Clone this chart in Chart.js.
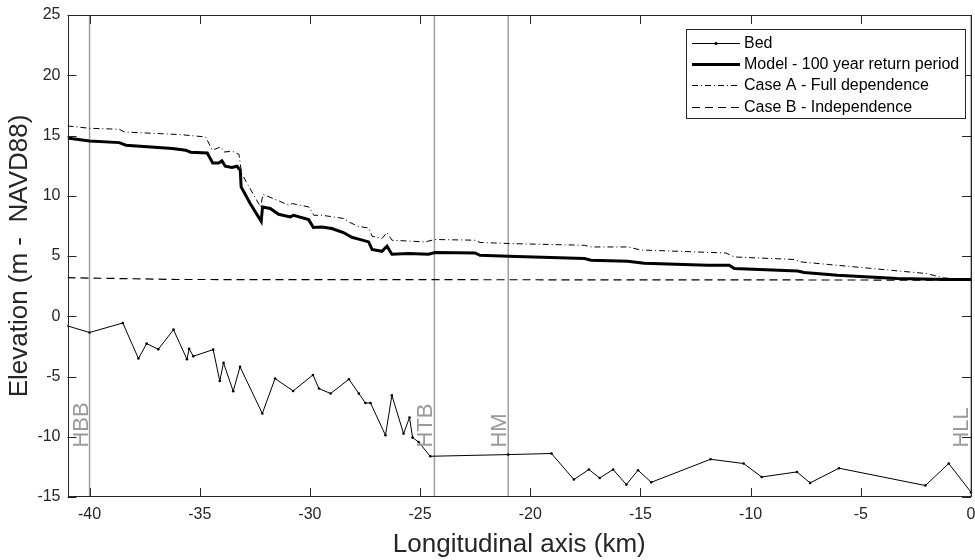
<!DOCTYPE html>
<html><head><meta charset="utf-8">
<script src="https://cdn.jsdelivr.net/npm/chart.js@4.4.0/dist/chart.umd.min.js"></script>
<style>html,body{margin:0;padding:0;background:#fff}#c{display:block}</style>
</head><body>
<canvas id="c" width="975" height="560"></canvas>
<script>
// ---------- data ----------
const bedKm = [-41.0,-40.0,-38.49,-37.78,-37.41,-36.88,-36.19,-35.58,-35.48,-35.29,-34.39,-34.09,-33.92,-33.48,-33.17,-32.16,-31.58,-30.76,-29.86,-29.59,-29.06,-28.23,-27.78,-27.48,-27.25,-26.57,-26.28,-25.75,-25.48,-25.34,-25.07,-24.54,-21.0,-19.04,-18.02,-17.34,-16.85,-16.24,-15.64,-15.11,-14.51,-11.82,-10.32,-9.50,-7.90,-7.30,-5.99,-2.07,-1.01,0.0];
const bedElev = [-0.8,-1.35,-0.56,-3.51,-2.27,-2.74,-1.11,-3.57,-2.71,-3.32,-2.77,-5.37,-3.87,-6.22,-4.2,-8.07,-5.17,-6.2,-4.87,-6.0,-6.41,-5.23,-6.41,-7.2,-7.2,-9.88,-6.56,-9.74,-8.41,-10.07,-10.43,-11.62,-11.48,-11.39,-13.55,-12.72,-13.42,-12.72,-13.97,-12.78,-13.78,-11.87,-12.22,-13.34,-12.92,-13.83,-12.61,-14.05,-12.22,-14.6];

const modelKm = [-41.0,-40.0,-38.65,-38.35,-36.24,-35.64,-35.41,-34.66,-34.41,-34.14,-33.99,-33.84,-33.54,-33.31,-33.16,-33.12,-32.71,-32.21,-32.15,-31.80,-31.42,-30.89,-30.74,-30.06,-29.84,-29.46,-29.01,-28.48,-28.10,-27.79,-27.33,-27.18,-26.73,-26.50,-26.28,-25.52,-24.62,-24.32,-22.51,-22.28,-21.0,-17.54,-17.24,-15.58,-14.83,-11.95,-10.97,-10.74,-7.87,-7.57,-6.06,-3.35,-1.09,0.0];
const modelElev = [14.80,14.55,14.41,14.19,13.92,13.78,13.61,13.55,12.72,12.72,12.89,12.45,12.34,12.45,12.12,10.73,9.35,7.88,9.07,8.94,8.46,8.24,8.38,8.02,7.36,7.41,7.28,6.95,6.55,6.40,6.17,5.54,5.39,5.81,5.15,5.20,5.15,5.29,5.25,5.06,4.98,4.79,4.65,4.56,4.40,4.23,4.23,3.96,3.76,3.63,3.40,3.13,3.05,3.05];

const caseAKm = [-41.0,-40.0,-38.65,-38.42,-35.93,-34.73,-34.43,-34.05,-33.90,-33.52,-33.22,-33.10,-32.24,-32.13,-31.48,-30.95,-30.80,-30.05,-29.82,-29.44,-28.46,-28.24,-27.79,-27.33,-27.18,-26.73,-26.50,-26.28,-24.77,-24.32,-22.51,-22.28,-20.85,-17.54,-17.24,-15.58,-14.98,-11.12,-10.74,-8.02,-7.72,-2.0,-1.24,0.0];
const caseAElev = [15.79,15.60,15.52,15.29,15.08,14.88,13.78,14.05,13.63,13.69,13.44,11.84,9.07,10.12,9.63,9.21,9.35,9.07,8.38,8.38,8.11,7.83,7.45,7.33,6.64,6.45,6.95,6.31,6.17,6.37,6.31,6.12,6.03,5.89,5.75,5.75,5.50,5.25,4.92,4.71,4.51,3.54,3.18,3.05];

const caseBKm = [-41.0,-36.0,0.0];
const caseBElev = [3.2,3.05,3.0];

const stationNames = ['HBB','HTB','HM','HLL'];
const stationKm = [-40.0,-24.35,-21.0,0.0];

const xTicks = [-40,-35,-30,-25,-20,-15,-10,-5,0];
const yTicks = [-15,-10,-5,0,5,10,15,20,25];
const seriesLabels = ['Bed','Model - 100 year return period','Case A - Full dependence','Case B - Independence'];

// ---------- chart ----------
const FONT = "'Liberation Sans', Arial, Helvetica, sans-serif";
const AX = '#262626';
const pts = (xs, ys) => xs.map((x, i) => ({x: x, y: ys[i]}));

const styles = [
  {borderWidth: 1, borderDash: [], pointRadius: 1.3},
  {borderWidth: 3, borderDash: [], pointRadius: 0},
  {borderWidth: 1, borderDash: [6, 3, 1, 3], pointRadius: 0},
  {borderWidth: 1.2, borderDash: [8, 5], pointRadius: 0}
];
const series = [[bedKm, bedElev], [modelKm, modelElev], [caseAKm, caseAElev], [caseBKm, caseBElev]];

const datasets = series.map((s, i) => ({
  label: seriesLabels[i],
  data: pts(s[0], s[1]),
  borderColor: '#000',
  backgroundColor: '#000',
  pointBackgroundColor: '#000',
  pointBorderWidth: 0,
  borderWidth: styles[i].borderWidth,
  borderDash: styles[i].borderDash,
  pointRadius: styles[i].pointRadius,
  tension: 0,
  fill: false
}));
stationKm.forEach((k, i) => datasets.push({
  label: stationNames[i],
  data: [{x: k, y: -15}, {x: k, y: 25}],
  borderColor: '#a0a0a0',
  borderWidth: 1.5,
  pointRadius: 0,
  fill: false
}));

const framePlugin = {
  id: 'frame',
  afterDatasetsDraw(chart) {
    const ctx = chart.ctx, a = chart.chartArea;
    const xs = chart.scales.x, ys = chart.scales.y;
    ctx.save();
    // station labels
    ctx.fillStyle = '#9a9a9a';
    ctx.font = '22px ' + FONT;
    ctx.textAlign = 'left';
    ctx.textBaseline = 'alphabetic';
    stationKm.forEach((k, i) => {
      const px = xs.getPixelForValue(k), py = ys.getPixelForValue(-10.9);
      ctx.save();
      ctx.translate(Math.min(px, a.right - 1) - 2, py);
      ctx.rotate(-Math.PI / 2);
      ctx.fillText(stationNames[i], 0, 0);
      ctx.restore();
    });
    // box
    ctx.strokeStyle = AX;
    ctx.lineWidth = 1;
    ctx.strokeRect(Math.round(a.left) + 0.5, Math.round(a.top) + 0.5, Math.round(a.right - a.left) - 1, Math.round(a.bottom - a.top) - 1);
    // inward ticks
    const tl = 9;
    ctx.beginPath();
    xTicks.forEach(v => {
      const p = Math.round(xs.getPixelForValue(v)) + 0.5;
      ctx.moveTo(p, a.bottom); ctx.lineTo(p, a.bottom - tl);
      ctx.moveTo(p, a.top); ctx.lineTo(p, a.top + tl);
    });
    yTicks.forEach(v => {
      const p = Math.round(ys.getPixelForValue(v)) + 0.5;
      ctx.moveTo(a.left, p); ctx.lineTo(a.left + tl, p);
      ctx.moveTo(a.right, p); ctx.lineTo(a.right - tl, p);
    });
    ctx.stroke();
    ctx.restore();
  },
  afterDraw(chart) {
    const ctx = chart.ctx;
    const bx = 686, by = 29, bw = 279, bh = 89;
    const rows = [43, 64, 85, 107];
    ctx.save();
    ctx.fillStyle = '#fff';
    ctx.fillRect(bx, by, bw, bh);
    ctx.strokeStyle = AX;
    ctx.lineWidth = 1;
    ctx.strokeRect(bx + 0.5, by + 0.5, bw, bh);
    ctx.font = '16px ' + FONT;
    ctx.textBaseline = 'middle';
    ctx.textAlign = 'left';
    for (let i = 0; i < 4; i++) {
      const d = chart.data.datasets[i];
      const y = rows[i];
      ctx.strokeStyle = '#000';
      ctx.lineWidth = d.borderWidth;
      ctx.setLineDash(d.borderDash || []);
      ctx.beginPath();
      ctx.moveTo(692, y + 0.5);
      ctx.lineTo(740, y + 0.5);
      ctx.stroke();
      ctx.setLineDash([]);
      if (d.pointRadius > 0) {
        ctx.fillStyle = '#000';
        ctx.beginPath();
        ctx.arc(716, y + 0.5, 1.6, 0, Math.PI * 2);
        ctx.fill();
      }
      ctx.fillStyle = '#000';
      ctx.fillText(d.label, 744, y + 1);
    }
    ctx.restore();
  }
};

new Chart(document.getElementById('c'), {
  type: 'line',
  data: {datasets: datasets},
  options: {
    responsive: false,
    animation: false,
    devicePixelRatio: 1,
    layout: {padding: {top: 15, right: 1, left: 0, bottom: 0}},
    plugins: {legend: {display: false}, tooltip: {enabled: false}},
    scales: {
      x: {
        type: 'linear', min: -41, max: 0,
        afterBuildTicks: s => { s.ticks = xTicks.map(v => ({value: v})); },
        afterFit: s => { s.height = 63; s.paddingLeft = 0; s.paddingRight = 0; },
        grid: {display: false, drawTicks: false},
        border: {display: false},
        ticks: {color: AX, font: {family: FONT, size: 16}, padding: 8, maxRotation: 0, autoSkip: false},
        title: {display: true, text: 'Longitudinal axis (km)', color: AX, font: {family: FONT, size: 26}, padding: {top: 0, bottom: 0}}
      },
      y: {
        type: 'linear', min: -15, max: 25,
        afterBuildTicks: s => { s.ticks = yTicks.map(v => ({value: v})); },
        afterFit: s => { s.width = 67.5; s.paddingTop = 0; s.paddingBottom = 0; },
        grid: {display: false, drawTicks: false},
        border: {display: false},
        ticks: {color: AX, font: {family: FONT, size: 16}, padding: 7, autoSkip: false},
        title: {display: true, text: 'Elevation (m -  NAVD88)', color: AX, font: {family: FONT, size: 26}, padding: {top: 4, bottom: 0}}
      }
    }
  },
  plugins: [framePlugin]
});
</script>
</body></html>
